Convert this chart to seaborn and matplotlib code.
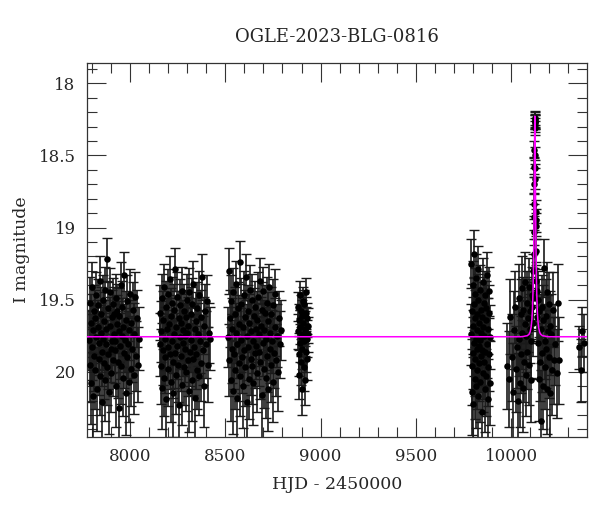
import numpy as np
import pandas as pd
import matplotlib
matplotlib.use("Agg")
import matplotlib.pyplot as plt
from matplotlib.ticker import MultipleLocator, FuncFormatter
import seaborn as sns

# --- photometry, season by season (HJD - 2450000, I mag, error) ---
s1_hjd = [7786, 7789, 7791, 7794, 7797, 7799, 7802, 7805, 7808, 7810,
          7813, 7816, 7819, 7821, 7824, 7827, 7830, 7832, 7835, 7838,
          7841, 7843, 7846, 7849, 7852, 7854, 7857, 7860, 7863, 7865,
          7868, 7871, 7874, 7876, 7879, 7882, 7885, 7887, 7890, 7893,
          7896, 7898, 7901, 7904, 7907, 7909, 7912, 7915, 7918, 7920,
          7923, 7926, 7929, 7931, 7934, 7937, 7940, 7942, 7945, 7948,
          7951, 7953, 7956, 7959, 7962, 7965, 7968, 7971, 7974, 7977,
          7980, 7983, 7986, 7990, 7993, 7996, 8000, 8003, 8007, 8011,
          8015, 8019, 8023, 8027, 8032, 8037, 8042, 8048]
s1_mag = [19.78, 19.52, 19.95, 19.66, 20.08, 19.41, 19.83, 19.71, 20.17, 19.58,
          19.89, 19.63, 19.99, 19.47, 19.76, 20.12, 19.69, 19.54, 19.91, 19.80,
          19.37, 20.03, 19.73, 19.60, 19.86, 20.21, 19.50, 19.77, 19.94, 19.65,
          19.43, 20.06, 19.81, 19.70, 19.22, 19.97, 19.56, 19.88, 20.14, 19.68,
          19.45, 19.84, 20.01, 19.62, 19.79, 19.53, 19.92, 19.74, 19.60, 19.79,
          19.85, 19.49, 20.10, 19.67, 19.58, 19.93, 19.72, 20.25, 19.61, 19.82,
          19.40, 19.96, 19.75, 19.55, 20.04, 19.69, 19.87, 19.33, 19.78, 20.15,
          19.64, 19.90, 19.51, 19.81, 20.07, 19.71, 19.46, 19.98, 19.66, 19.84,
          19.57, 20.02, 19.74, 19.48, 19.89, 19.63, 19.95, 19.77]
s1_err = [0.21, 0.18, 0.26, 0.20, 0.28, 0.17, 0.23, 0.19, 0.30, 0.18,
          0.24, 0.20, 0.27, 0.16, 0.22, 0.29, 0.19, 0.18, 0.25, 0.22,
          0.17, 0.27, 0.21, 0.19, 0.24, 0.31, 0.17, 0.22, 0.25, 0.20,
          0.16, 0.28, 0.23, 0.20, 0.15, 0.26, 0.18, 0.24, 0.29, 0.20,
          0.17, 0.23, 0.27, 0.19, 0.22, 0.18, 0.25, 0.21, 0.19, 0.21,
          0.23, 0.17, 0.28, 0.20, 0.19, 0.25, 0.21, 0.32, 0.19, 0.23,
          0.16, 0.26, 0.22, 0.18, 0.27, 0.20, 0.24, 0.16, 0.22, 0.29,
          0.20, 0.25, 0.18, 0.23, 0.28, 0.21, 0.17, 0.26, 0.20, 0.23,
          0.19, 0.27, 0.22, 0.17, 0.24, 0.20, 0.26, 0.22]

s2_hjd = [8156, 8159, 8161, 8164, 8167, 8170, 8172, 8175, 8178, 8180,
          8183, 8186, 8189, 8191, 8194, 8197, 8200, 8202, 8205, 8208,
          8211, 8213, 8216, 8219, 8222, 8224, 8227, 8230, 8233, 8235,
          8238, 8241, 8244, 8246, 8249, 8252, 8255, 8257, 8260, 8263,
          8266, 8268, 8271, 8274, 8277, 8279, 8282, 8285, 8288, 8290,
          8293, 8296, 8299, 8301, 8304, 8307, 8310, 8312, 8315, 8318,
          8321, 8324, 8327, 8330, 8333, 8336, 8339, 8342, 8345, 8348,
          8351, 8354, 8357, 8361, 8364, 8367, 8371, 8374, 8378, 8382,
          8386, 8390, 8394, 8398, 8403, 8408, 8413, 8418]
s2_mag = [19.81, 19.59, 19.96, 19.72, 20.11, 19.49, 19.85, 19.64, 20.04, 19.41,
          19.77, 19.90, 19.55, 20.19, 19.70, 19.83, 19.46, 19.98, 19.67, 19.36,
          19.88, 20.07, 19.61, 19.79, 19.52, 19.93, 20.15, 19.74, 19.57, 19.87,
          19.29, 20.02, 19.69, 19.82, 19.48, 19.95, 19.63, 20.23, 19.76, 19.54,
          19.89, 19.66, 20.09, 19.44, 19.80, 19.71, 19.97, 19.58, 19.84, 19.75,
          19.62, 20.00, 19.73, 19.50, 19.92, 19.68, 20.13, 19.45, 19.86, 19.60,
          19.78, 20.06, 19.53, 19.91, 19.39, 19.83, 19.70, 20.18, 19.65, 19.88,
          19.56, 19.99, 19.74, 19.47, 20.03, 19.79, 19.62, 19.94, 19.34, 19.85,
          19.68, 20.10, 19.58, 19.81, 19.51, 19.95, 19.73, 19.77]
s2_err = [0.22, 0.19, 0.26, 0.21, 0.29, 0.17, 0.24, 0.20, 0.27, 0.16,
          0.22, 0.25, 0.18, 0.31, 0.21, 0.23, 0.17, 0.26, 0.20, 0.16,
          0.24, 0.28, 0.19, 0.22, 0.18, 0.25, 0.30, 0.21, 0.18, 0.24,
          0.15, 0.27, 0.20, 0.23, 0.17, 0.26, 0.19, 0.31, 0.22, 0.18,
          0.24, 0.20, 0.28, 0.17, 0.23, 0.21, 0.26, 0.19, 0.23, 0.22,
          0.19, 0.27, 0.21, 0.18, 0.25, 0.20, 0.29, 0.17, 0.24, 0.19,
          0.22, 0.28, 0.18, 0.25, 0.16, 0.23, 0.21, 0.30, 0.20, 0.24,
          0.18, 0.27, 0.22, 0.17, 0.27, 0.22, 0.19, 0.26, 0.16, 0.24,
          0.20, 0.28, 0.19, 0.23, 0.18, 0.26, 0.21, 0.22]

s3_hjd = [8516, 8519, 8522, 8525, 8528, 8531, 8534, 8537, 8540, 8543,
          8546, 8549, 8552, 8555, 8558, 8561, 8564, 8567, 8570, 8573,
          8576, 8579, 8582, 8585, 8588, 8591, 8594, 8597, 8600, 8603,
          8606, 8609, 8612, 8615, 8618, 8621, 8624, 8627, 8630, 8633,
          8636, 8639, 8642, 8645, 8648, 8651, 8654, 8657, 8660, 8663,
          8666, 8669, 8672, 8675, 8678, 8681, 8684, 8687, 8690, 8693,
          8696, 8699, 8702, 8705, 8708, 8711, 8714, 8717, 8720, 8723,
          8726, 8729, 8732, 8735, 8738, 8741, 8744, 8748, 8751, 8755,
          8759, 8763, 8767, 8771, 8776, 8781, 8787, 8793]
s3_mag = [19.76, 19.30, 19.92, 19.63, 20.06, 19.51, 19.84, 19.70, 20.13, 19.45,
          19.88, 19.60, 19.99, 19.73, 19.39, 20.18, 19.81, 19.56, 19.94, 19.67,
          19.24, 20.03, 19.78, 19.53, 19.90, 19.69, 20.10, 19.47, 19.85, 19.62,
          19.97, 19.34, 19.75, 20.21, 19.58, 19.83, 19.66, 20.05, 19.43, 19.91,
          19.72, 19.50, 19.96, 19.79, 20.08, 19.61, 19.87, 19.55, 19.82, 19.70,
          19.64, 20.01, 19.48, 19.86, 19.74, 19.37, 19.93, 19.68, 20.16, 19.57,
          19.80, 19.44, 19.98, 19.71, 19.59, 20.04, 19.77, 19.52, 19.89, 19.65,
          20.12, 19.41, 19.84, 19.73, 19.95, 19.60, 19.79, 20.07, 19.54, 19.87,
          19.69, 19.46, 19.92, 19.75, 20.00, 19.63, 19.81, 19.71]
s3_err = [0.21, 0.16, 0.25, 0.20, 0.28, 0.18, 0.24, 0.21, 0.30, 0.17,
          0.24, 0.19, 0.27, 0.21, 0.16, 0.31, 0.23, 0.18, 0.26, 0.20,
          0.15, 0.28, 0.22, 0.18, 0.25, 0.20, 0.29, 0.17, 0.24, 0.19,
          0.27, 0.16, 0.22, 0.31, 0.18, 0.23, 0.20, 0.28, 0.17, 0.25,
          0.21, 0.18, 0.26, 0.22, 0.29, 0.19, 0.24, 0.18, 0.23, 0.21,
          0.20, 0.27, 0.17, 0.24, 0.22, 0.16, 0.26, 0.20, 0.30, 0.19,
          0.23, 0.17, 0.27, 0.21, 0.19, 0.28, 0.22, 0.18, 0.25, 0.20,
          0.29, 0.16, 0.24, 0.21, 0.26, 0.19, 0.22, 0.28, 0.18, 0.24,
          0.20, 0.17, 0.25, 0.22, 0.27, 0.19, 0.23, 0.21]

s4_hjd = [8881, 8883, 8885, 8886, 8888, 8890, 8892, 8893, 8895, 8897,
          8899, 8900, 8902, 8904, 8906, 8908, 8909, 8911, 8913, 8915,
          8917, 8919, 8921, 8923, 8925, 8927, 8929, 8931, 8933, 8934]
s4_mag = [19.72, 19.55, 19.88, 19.64, 20.02, 19.47, 19.80, 19.69, 19.93, 19.58,
          19.76, 20.12, 19.61, 19.84, 19.51, 19.74, 19.66, 19.97, 19.53, 19.79,
          19.70, 20.06, 19.59, 19.86, 19.45, 19.77, 19.63, 19.91, 19.68, 19.74]
s4_err = [0.12, 0.10, 0.15, 0.11, 0.17, 0.10, 0.13, 0.12, 0.16, 0.11,
          0.13, 0.18, 0.11, 0.14, 0.10, 0.12, 0.11, 0.16, 0.10, 0.13,
          0.12, 0.17, 0.11, 0.14, 0.10, 0.13, 0.11, 0.15, 0.12, 0.12]

s5_hjd = [9790, 9791, 9793, 9794, 9796, 9797, 9799, 9800, 9802, 9803,
          9805, 9806, 9808, 9809, 9811, 9812, 9814, 9815, 9817, 9818,
          9820, 9821, 9823, 9825, 9826, 9828, 9830, 9831, 9833, 9835,
          9836, 9838, 9840, 9841, 9843, 9845, 9847, 9848, 9850, 9852,
          9854, 9855, 9857, 9859, 9861, 9863, 9865, 9866, 9868, 9870,
          9872, 9874, 9876, 9878, 9880, 9882, 9884, 9886, 9888, 9889]
s5_mag = [19.74, 19.25, 19.96, 19.58, 20.14, 19.68, 19.40, 19.87, 20.22, 19.53,
          19.80, 19.18, 20.05, 19.63, 19.91, 19.46, 19.77, 20.10, 19.35, 19.84,
          19.60, 19.99, 19.71, 19.29, 20.17, 19.50, 19.82, 19.66, 19.94, 19.43,
          19.78, 20.07, 19.57, 19.89, 19.73, 20.28, 19.62, 19.85, 19.38, 20.01,
          19.69, 19.52, 19.93, 19.75, 20.12, 19.47, 19.86, 19.64, 20.03, 19.56,
          19.81, 19.33, 19.97, 19.70, 20.19, 19.59, 19.88, 19.44, 20.08, 19.76]
s5_err = [0.21, 0.17, 0.27, 0.19, 0.30, 0.20, 0.17, 0.25, 0.32, 0.18,
          0.23, 0.16, 0.28, 0.20, 0.26, 0.18, 0.22, 0.29, 0.17, 0.24,
          0.19, 0.27, 0.21, 0.16, 0.31, 0.18, 0.23, 0.20, 0.26, 0.17,
          0.22, 0.28, 0.19, 0.25, 0.21, 0.33, 0.20, 0.24, 0.17, 0.27,
          0.21, 0.18, 0.26, 0.22, 0.30, 0.17, 0.24, 0.20, 0.28, 0.19,
          0.23, 0.16, 0.27, 0.21, 0.31, 0.19, 0.25, 0.17, 0.29, 0.22]

# 2023 season, baseline part
s6_hjd = [9978, 9986, 9995, 10003, 10010, 10016, 10022, 10027, 10032, 10036,
          10040, 10043, 10046, 10049, 10052, 10055, 10058, 10061, 10064, 10067,
          10070, 10073, 10076, 10079, 10082, 10085, 10088, 10091, 10094, 10097,
          10100, 10103, 10106, 10109, 10112, 10139, 10142, 10145, 10148, 10151,
          10154, 10157, 10160, 10163, 10166, 10169, 10172, 10175, 10178, 10181,
          10184, 10187, 10190, 10193, 10196, 10199, 10202, 10206, 10210, 10215,
          10220, 10226, 10232, 10239, 10246, 10252]
s6_mag = [19.96, 20.05, 19.62, 19.90, 20.14, 19.71, 19.55, 19.98, 19.83, 20.20,
          19.49, 19.77, 20.08, 19.60, 19.88, 19.42, 19.73, 20.11, 19.57, 19.93,
          19.67, 19.38, 20.02, 19.75, 19.52, 19.86, 19.63, 19.41, 19.95, 19.70,
          19.58, 20.06, 19.79, 19.47, 19.66, 19.50, 19.80, 20.05, 19.58, 19.93,
          19.70, 20.34, 19.55, 19.87, 19.64, 20.10, 19.28, 19.79, 19.97, 19.61,
          19.84, 19.45, 20.12, 19.72, 19.53, 19.90, 19.68, 20.15, 19.74, 19.99,
          19.57, 19.92, 19.81, 20.01, 19.52, 19.92]
s6_err = [0.30, 0.33, 0.26, 0.30, 0.34, 0.27, 0.25, 0.30, 0.28, 0.33,
          0.24, 0.26, 0.30, 0.24, 0.27, 0.22, 0.25, 0.31, 0.23, 0.28,
          0.24, 0.21, 0.29, 0.25, 0.22, 0.26, 0.23, 0.20, 0.28, 0.24,
          0.22, 0.29, 0.25, 0.20, 0.23, 0.20, 0.25, 0.29, 0.22, 0.27,
          0.24, 0.35, 0.22, 0.27, 0.24, 0.30, 0.20, 0.26, 0.29, 0.25,
          0.27, 0.21, 0.31, 0.25, 0.22, 0.28, 0.24, 0.33, 0.28, 0.31,
          0.26, 0.30, 0.28, 0.31, 0.27, 0.30]

# 2023 season, points on the event itself
peak_hjd = [10111, 10114, 10116, 10118, 10119, 10119.5, 10120, 10121, 10121.5, 10122,
            10123, 10123.3, 10123.5, 10124, 10124.5, 10124.7, 10125, 10126, 10126.5, 10127,
            10128, 10128.5, 10129, 10130, 10132, 10134, 10137]
peak_mag = [19.55, 19.49, 19.30, 19.18, 19.03, 18.93, 18.84, 18.70, 18.58, 18.46,
            18.31, 18.27, 18.26, 18.24, 18.25, 18.27, 18.29, 18.50, 18.59, 18.66,
            18.89, 18.95, 18.99, 19.16, 19.37, 19.44, 19.62]
peak_err = [0.17, 0.15, 0.12, 0.10, 0.09, 0.09, 0.08, 0.07, 0.07, 0.06,
            0.05, 0.05, 0.05, 0.05, 0.05, 0.05, 0.05, 0.06, 0.06, 0.07,
            0.08, 0.08, 0.09, 0.10, 0.13, 0.15, 0.17]

s7_hjd = [10355, 10365, 10372, 10380]
s7_mag = [19.83, 19.99, 19.72, 19.80]
s7_err = [0.15, 0.22, 0.17, 0.20]

# --- microlensing model curve ---
model_hjd = [7770, 10050, 10064, 10074, 10084, 10094, 10099, 10104, 10108, 10111,
             10114, 10116, 10118, 10119, 10120, 10121, 10122, 10123, 10124, 10125,
             10126, 10127, 10128, 10129, 10130, 10132, 10134, 10137, 10140, 10144,
             10149, 10154, 10164, 10174, 10184, 10198, 10400]
model_mag = [19.757, 19.757, 19.755, 19.752, 19.750, 19.739, 19.725, 19.694, 19.645, 19.580,
             19.460, 19.330, 19.140, 19.010, 18.860, 18.680, 18.480, 18.300, 18.227, 18.300,
             18.480, 18.680, 18.860, 19.010, 19.140, 19.330, 19.460, 19.580, 19.645, 19.694,
             19.725, 19.739, 19.750, 19.752, 19.755, 19.757, 19.757]

seasons = [(s1_hjd, s1_mag, s1_err), (s2_hjd, s2_mag, s2_err), (s3_hjd, s3_mag, s3_err),
           (s4_hjd, s4_mag, s4_err), (s5_hjd, s5_mag, s5_err), (s6_hjd, s6_mag, s6_err),
           (peak_hjd, peak_mag, peak_err), (s7_hjd, s7_mag, s7_err)]

df = pd.concat([pd.DataFrame({"hjd": h, "mag": m, "err": e}) for h, m, e in seasons],
               ignore_index=True)
model = pd.DataFrame({"hjd": model_hjd, "mag": model_mag})

sns.set_style("ticks")
plt.rcParams["font.family"] = ["DejaVu Serif"]

fig = plt.figure(figsize=(6, 5.12), dpi=100)
ax = fig.add_axes([0.1445, 0.1471, 0.9788 - 0.1445, 0.8775 - 0.1471])

ax.errorbar(df["hjd"], df["mag"], yerr=df["err"], fmt="none", ecolor="0.1",
            elinewidth=1.2, capsize=3.5, capthick=1.0, zorder=2)
sns.scatterplot(data=df, x="hjd", y="mag", color="black", s=22, linewidth=0, ax=ax, zorder=3)
sns.lineplot(data=model, x="hjd", y="mag", color="#ff00ff", linewidth=1.1, sort=False,
             estimator=None, ax=ax, zorder=4)

ax.set_xlim(7773, 10399)
ax.set_ylim(20.45, 17.857)

ax.xaxis.set_major_locator(MultipleLocator(500))
ax.xaxis.set_minor_locator(MultipleLocator(100))
ax.yaxis.set_major_locator(MultipleLocator(0.5))
ax.yaxis.set_minor_locator(MultipleLocator(0.1))
ax.yaxis.set_major_formatter(FuncFormatter(lambda v, p: f"{v:g}"))
ax.tick_params(which="both", direction="in", top=True, right=True, width=0.8,
               color="0.2", labelsize=12)
ax.tick_params(which="major", length=14, pad=8)
ax.tick_params(which="minor", length=7)
for sp in ax.spines.values():
    sp.set_linewidth(0.9)
    sp.set_color("0.2")

ax.set_title("OGLE-2023-BLG-0816", fontsize=13, pad=15)
ax.set_xlabel("HJD - 2450000", fontsize=12.5, labelpad=8)
ax.set_ylabel("I magnitude", fontsize=12.5, labelpad=6)

fig.savefig("out.png", dpi=100)
